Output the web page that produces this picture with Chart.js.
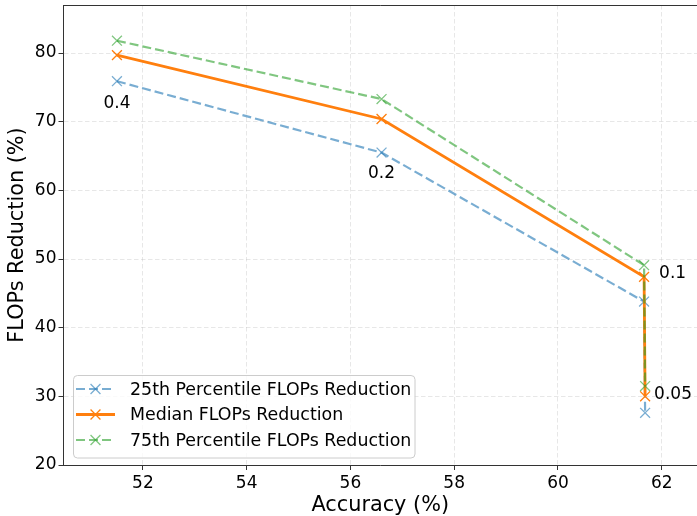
<!DOCTYPE html>
<html>
<head>
<meta charset="utf-8">
<script src="https://cdn.jsdelivr.net/npm/chart.js@4/dist/chart.umd.min.js"></script>
<style>
  html, body { margin: 0; padding: 0; background: #fff; }
  #wrap { width: 697px; height: 516px; position: relative; }
</style>
</head>
<body>
<div id="wrap"><canvas id="c" width="697" height="516"></canvas></div>
<script>
// ---- data ----
const thresholds = ['0.4', '0.2', '0.1', '0.05'];
const accuracy   = [51.5, 56.6, 61.66, 61.68];
const p25Flops   = [75.9, 65.5, 43.8, 27.6];
const medianFlops= [79.7, 70.4, 47.4, 30.0];
const p75Flops   = [81.8, 73.3, 49.1, 31.5];
const xTicks = [52, 54, 56, 58, 60, 62];
const yTicks = [20, 30, 40, 50, 60, 70, 80];
const seriesNames = ['25th Percentile FLOPs Reduction', 'Median FLOPs Reduction', '75th Percentile FLOPs Reduction'];

const FONT = "'DejaVu Sans', sans-serif";
Chart.defaults.color = '#000';
Chart.defaults.font.family = FONT;

const toPts = ys => accuracy.map((x, i) => ({x: x, y: ys[i]}));

const c25 = 'rgba(31,119,180,0.6)';
const c50 = '#ff7f0e';
const c75 = 'rgba(44,160,44,0.6)';

const datasets = [
  {label: seriesNames[0], data: toPts(p25Flops), borderColor: c25, backgroundColor: c25,
   borderWidth: 2.2, borderDash: [9, 4], pointBorderColor: c25, order: 3},
  {label: seriesNames[1], data: toPts(medianFlops), borderColor: c50, backgroundColor: c50,
   borderWidth: 2.8, borderDash: [], pointBorderColor: c50, order: 2},
  {label: seriesNames[2], data: toPts(p75Flops), borderColor: c75, backgroundColor: c75,
   borderWidth: 2.2, borderDash: [9, 4], pointBorderColor: c75, order: 1}
].map(d => Object.assign({
  showLine: true, fill: false, tension: 0,
  pointStyle: 'crossRot', pointRadius: 7, pointHoverRadius: 7, pointBorderWidth: 1.3
}, d));

function drawCross(ctx, x, y, r, color, w) {
  const o = r * Math.SQRT1_2;
  ctx.save();
  ctx.setLineDash([]);
  ctx.strokeStyle = color;
  ctx.lineWidth = w;
  ctx.beginPath();
  ctx.moveTo(x - o, y - o); ctx.lineTo(x + o, y + o);
  ctx.moveTo(x - o, y + o); ctx.lineTo(x + o, y - o);
  ctx.stroke();
  ctx.restore();
}

const decor = {
  id: 'decor',
  afterDatasetsDraw(chart) {
    const {ctx, chartArea: a, scales: {x, y}} = chart;
    // top spine
    ctx.save();
    ctx.strokeStyle = '#333';
    ctx.lineWidth = 1;
    ctx.beginPath();
    ctx.moveTo(a.left, Math.round(a.top) + 0.5);
    ctx.lineTo(a.right, Math.round(a.top) + 0.5);
    ctx.stroke();
    ctx.restore();

    // threshold annotations relative to the median points
    const place = [
      {dx: 0, dy: 48, align: 'center'},
      {dx: 0, dy: 55, align: 'center'},
      {dx: 15, dy: -3, align: 'left'},
      {dx: 9, dy: -2, align: 'left'}
    ];
    ctx.save();
    ctx.font = '17px ' + FONT;
    ctx.fillStyle = '#000';
    ctx.textBaseline = 'middle';
    thresholds.forEach((t, i) => {
      const px = x.getPixelForValue(accuracy[i]);
      const py = y.getPixelForValue(medianFlops[i]);
      ctx.textAlign = place[i].align;
      ctx.fillText(t, px + place[i].dx, py + place[i].dy);
    });
    ctx.restore();

    // legend box
    const lx = 73.5, ly = 375.5, lw = 341.5, lh = 82.5, r = 4;
    ctx.save();
    ctx.beginPath();
    ctx.moveTo(lx + r, ly);
    ctx.lineTo(lx + lw - r, ly); ctx.arcTo(lx + lw, ly, lx + lw, ly + r, r);
    ctx.lineTo(lx + lw, ly + lh - r); ctx.arcTo(lx + lw, ly + lh, lx + lw - r, ly + lh, r);
    ctx.lineTo(lx + r, ly + lh); ctx.arcTo(lx, ly + lh, lx, ly + lh - r, r);
    ctx.lineTo(lx, ly + r); ctx.arcTo(lx, ly, lx + r, ly, r);
    ctx.closePath();
    ctx.fillStyle = 'rgba(255,255,255,0.8)';
    ctx.fill();
    ctx.strokeStyle = '#cccccc';
    ctx.lineWidth = 1;
    ctx.stroke();
    ctx.restore();

    const rows = [389, 414.5, 440];
    chart.data.datasets.forEach((ds, i) => {
      const ry = rows[i];
      ctx.save();
      ctx.strokeStyle = ds.borderColor;
      ctx.lineWidth = ds.borderWidth;
      ctx.setLineDash(ds.borderDash);
      ctx.beginPath();
      ctx.moveTo(76, ry); ctx.lineTo(115, ry);
      ctx.stroke();
      ctx.restore();
      drawCross(ctx, 95.5, ry, 7, ds.borderColor, 1.3);
      ctx.save();
      ctx.font = '17.4px ' + FONT;
      ctx.fillStyle = '#000';
      ctx.textBaseline = 'middle';
      ctx.textAlign = 'left';
      ctx.fillText(ds.label, 130, ry + 1);
      ctx.restore();
    });
  }
};

function noPad(s) {
  s.paddingTop = 0; s.paddingBottom = 0; s.paddingLeft = 0; s.paddingRight = 0;
}

new Chart(document.getElementById('c'), {
  type: 'scatter',
  data: {datasets: datasets},
  options: {
    responsive: false,
    animation: false,
    events: [],
    layout: {autoPadding: false, padding: {top: 5, right: 0, left: 0, bottom: 0}},
    plugins: {legend: {display: false}, tooltip: {enabled: false}},
    scales: {
      x: {
        type: 'linear', min: 50.47, max: 62.68,
        afterBuildTicks: s => { s.ticks = xTicks.map(v => ({value: v})); },
        afterFit: s => { s.height = 51; noPad(s); },
        ticks: {font: {size: 17, family: FONT}, color: '#000', padding: 3, maxRotation: 0},
        grid: {color: 'rgba(176,176,176,0.3)', lineWidth: 1, tickLength: 5, tickColor: '#333', tickWidth: 1},
        border: {display: true, color: '#333', width: 1, dash: [4.5, 2.5]},
        title: {display: true, text: 'Accuracy (%)', font: {size: 20.8, family: FONT, lineHeight: 1}, color: '#000', padding: {top: 0, bottom: 0}}
      },
      y: {
        type: 'linear', min: 20, max: 87,
        afterBuildTicks: s => { s.ticks = yTicks.map(v => ({value: v})); },
        afterFit: s => { s.width = 63.5; noPad(s); },
        ticks: {font: {size: 17, family: FONT}, color: '#000', padding: 2},
        grid: {color: 'rgba(176,176,176,0.3)', lineWidth: 1, tickLength: 5, tickColor: '#333', tickWidth: 1},
        border: {display: true, color: '#333', width: 1, dash: [4.5, 2.5]},
        title: {display: true, text: 'FLOPs Reduction (%)', font: {size: 20.8, family: FONT, lineHeight: 1}, color: '#000', padding: {top: 7, bottom: 0}}
      }
    }
  },
  plugins: [decor]
});
</script>
</body>
</html>
